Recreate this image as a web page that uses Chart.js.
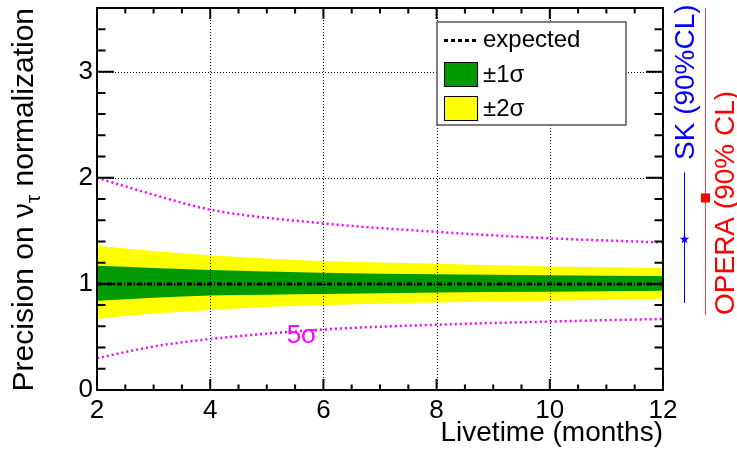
<!DOCTYPE html>
<html>
<head>
<meta charset="utf-8">
<script src="https://cdn.jsdelivr.net/npm/chart.js@4.4.0/dist/chart.umd.min.js"></script>
<style>
  html, body { margin: 0; padding: 0; background: #fff; }
</style>
</head>
<body>
<canvas id="chart" width="737" height="451"></canvas>
<script>
const months = [2, 3, 4, 6, 8, 10, 12];

const expected    = [1, 1, 1, 1, 1, 1, 1];
const oneSigmaHi  = [1.17, 1.15, 1.13, 1.105, 1.09, 1.082, 1.075];
const oneSigmaLo  = [0.84, 0.87, 0.89, 0.905, 0.92, 0.925, 0.935];
const twoSigmaHi  = [1.36, 1.31, 1.27, 1.215, 1.19, 1.163, 1.15];
const twoSigmaLo  = [0.67, 0.72, 0.755, 0.80, 0.825, 0.84, 0.86];
const fiveSigmaHi = [2.0, 1.84, 1.70, 1.57, 1.49, 1.43, 1.39];
const fiveSigmaLo = [0.30, 0.41, 0.48, 0.57, 0.615, 0.645, 0.67];

const xTicks = [2, 4, 6, 8, 10, 12];
const yTicks = [0, 1, 2, 3];

// external measurements shown right of the frame (value + 90% CL range)
const skCentral = 1.42, skRange = [0.82, 2.05];
const operaCentral = 1.81, operaRange = [0.71, 3.6];

const fiveSigmaLabelAt = { x: 5.62, y: 0.51 };

const FONT = '"Liberation Sans", Arial, Helvetica, sans-serif';

function series(vals, extra) {
    return Object.assign({
        data: months.map((m, i) => ({ x: m, y: vals[i] })),
        pointRadius: 0,
        borderWidth: 0,
        borderColor: 'transparent',
        cubicInterpolationMode: 'monotone',
        fill: false
    }, extra);
}

// ROOT-like frame: dotted grid, inward ticks on all sides, labels, legend, side markers
const rootFrame = {
    id: 'rootFrame',
    afterDatasetsDraw(chart) {
        const { ctx, chartArea: a, scales: { x, y } } = chart;
        ctx.save();

        // dotted grid at the major ticks
        ctx.strokeStyle = '#000';
        ctx.lineWidth = 1;
        ctx.setLineDash([1, 2]);
        ctx.beginPath();
        xTicks.slice(1, -1).forEach(v => {
            const px = Math.round(x.getPixelForValue(v)) + 0.5;
            ctx.moveTo(px, a.top); ctx.lineTo(px, a.bottom);
        });
        yTicks.slice(1).forEach(v => {
            const py = Math.round(y.getPixelForValue(v)) + 0.5;
            ctx.moveTo(a.left, py); ctx.lineTo(a.right, py);
        });
        ctx.stroke();
        ctx.setLineDash([]);

        // ticks
        ctx.lineWidth = 2;
        ctx.beginPath();
        for (let v = 0; v <= 3.6001; v += 0.2) {
            const major = Math.abs(v - Math.round(v)) < 1e-6;
            const len = major ? 17 : 8.5;
            const py = y.getPixelForValue(v);
            ctx.moveTo(a.left, py); ctx.lineTo(a.left + len, py);
            ctx.moveTo(a.right, py); ctx.lineTo(a.right - len, py);
        }
        for (let v = 2; v <= 12.0001; v += 0.5) {
            const major = Math.abs(v / 2 - Math.round(v / 2)) < 1e-6;
            const len = major ? 11 : 5.5;
            const px = x.getPixelForValue(v);
            ctx.moveTo(px, a.bottom); ctx.lineTo(px, a.bottom - len);
            ctx.moveTo(px, a.top); ctx.lineTo(px, a.top + len);
        }
        ctx.stroke();

        // frame
        ctx.strokeRect(a.left, a.top, a.right - a.left, a.bottom - a.top);

        // tick labels
        ctx.fillStyle = '#000';
        ctx.font = '26px ' + FONT;
        ctx.textAlign = 'center';
        ctx.textBaseline = 'alphabetic';
        xTicks.forEach(v => ctx.fillText(String(v), x.getPixelForValue(v), a.bottom + 28));
        ctx.textAlign = 'right';
        ctx.textBaseline = 'middle';
        yTicks.forEach(v => ctx.fillText(String(v), a.left - 4, y.getPixelForValue(v)));

        // axis titles
        ctx.font = '28px ' + FONT;
        ctx.textAlign = 'right';
        ctx.textBaseline = 'alphabetic';
        ctx.fillText('Livetime (months)', a.right, 441);

        ctx.save();
        ctx.translate(33, a.top);
        ctx.rotate(-Math.PI / 2);
        const big = '30px ' + FONT, small = '21px ' + FONT;
        const parts = [['Precision on \u03bd', big, 0], ['\u03c4', small, 7], [' normalization', big, 0]];
        let total = 0;
        parts.forEach(p => { ctx.font = p[1]; total += ctx.measureText(p[0]).width; });
        let cx = -total;
        ctx.textAlign = 'left';
        parts.forEach(p => {
            ctx.font = p[1];
            ctx.fillText(p[0], cx, p[2]);
            cx += ctx.measureText(p[0]).width;
        });
        ctx.restore();

        // 5 sigma label
        ctx.fillStyle = '#ff00ff';
        ctx.font = '26px ' + FONT;
        ctx.textAlign = 'center';
        ctx.textBaseline = 'middle';
        ctx.fillText('5\u03c3', x.getPixelForValue(fiveSigmaLabelAt.x), y.getPixelForValue(fiveSigmaLabelAt.y));

        // legend
        const lx = 437, ly = 22, lw = 189, lh = 103;
        ctx.fillStyle = '#fff';
        ctx.fillRect(lx, ly, lw, lh);
        ctx.strokeStyle = '#555';
        ctx.lineWidth = 1.5;
        ctx.strokeRect(lx, ly, lw, lh);
        ctx.strokeStyle = '#000';
        ctx.lineWidth = 3;
        ctx.setLineDash([4, 3]);
        ctx.beginPath(); ctx.moveTo(444, 40.5); ctx.lineTo(478, 40.5); ctx.stroke();
        ctx.setLineDash([]);
        ctx.lineWidth = 1;
        ctx.fillStyle = '#009900';
        ctx.fillRect(444, 62, 33, 24);
        ctx.strokeRect(444.5, 62.5, 33, 24);
        ctx.fillStyle = '#ffff00';
        ctx.fillRect(444, 96, 33, 24);
        ctx.strokeRect(444.5, 96.5, 33, 24);
        ctx.fillStyle = '#000';
        ctx.font = '24px ' + FONT;
        ctx.textAlign = 'left';
        ctx.textBaseline = 'middle';
        ctx.fillText('expected', 483, 40);
        ctx.fillText('\u00b11\u03c3', 483, 75);
        ctx.fillText('\u00b12\u03c3', 483, 109);

        // SK
        const skX = a.right + 21.5;
        ctx.strokeStyle = '#0000ff';
        ctx.lineWidth = 1;
        ctx.beginPath();
        ctx.moveTo(skX, y.getPixelForValue(skRange[0]));
        ctx.lineTo(skX, y.getPixelForValue(skRange[1]));
        ctx.stroke();
        drawStar(ctx, skX, y.getPixelForValue(skCentral), 5, '#0000ff');
        ctx.save();
        ctx.translate(a.right + 31, 160);
        ctx.rotate(-Math.PI / 2);
        ctx.fillStyle = '#0000ff';
        ctx.font = '28px ' + FONT;
        ctx.textAlign = 'left';
        ctx.textBaseline = 'alphabetic';
        ctx.fillText('SK (90%CL)', 0, 0);
        ctx.restore();

        // OPERA
        const opX = a.right + 42.5;
        ctx.strokeStyle = '#ff4444';
        ctx.lineWidth = 1;
        ctx.beginPath();
        ctx.moveTo(opX, y.getPixelForValue(operaRange[0]));
        ctx.lineTo(opX, y.getPixelForValue(operaRange[1]));
        ctx.stroke();
        ctx.fillStyle = '#ff0000';
        ctx.fillRect(opX - 4.5, y.getPixelForValue(operaCentral) - 4.5, 9, 9);
        ctx.save();
        ctx.translate(a.right + 71, 315);
        ctx.rotate(-Math.PI / 2);
        ctx.font = '28px ' + FONT;
        ctx.textAlign = 'left';
        ctx.textBaseline = 'alphabetic';
        ctx.fillText('OPERA (90% CL)', 0, 0);
        ctx.restore();

        ctx.restore();
    }
};

function drawStar(ctx, cx, cy, r, color) {
    ctx.beginPath();
    for (let i = 0; i < 10; i++) {
        const rr = i % 2 ? r * 0.4 : r;
        const ang = -Math.PI / 2 + i * Math.PI / 5;
        const px = cx + rr * Math.cos(ang), py = cy + rr * Math.sin(ang);
        if (i === 0) ctx.moveTo(px, py); else ctx.lineTo(px, py);
    }
    ctx.closePath();
    ctx.fillStyle = color;
    ctx.fill();
}

new Chart(document.getElementById('chart'), {
    type: 'line',
    data: {
        datasets: [
            series(twoSigmaHi, { fill: '+1', backgroundColor: '#ffff00', order: 4 }),
            series(twoSigmaLo, { order: 4 }),
            series(oneSigmaHi, { fill: '+1', backgroundColor: '#009900', order: 3 }),
            series(oneSigmaLo, { order: 3 }),
            series(fiveSigmaHi, { borderColor: '#ff00ff', borderWidth: 2.5, borderDash: [2, 3], order: 2 }),
            series(fiveSigmaLo, { borderColor: '#ff00ff', borderWidth: 2.5, borderDash: [2, 3], order: 2 }),
            series(expected, { borderColor: '#000', borderWidth: 3, borderDash: [5, 2, 1, 2], order: 1 })
        ]
    },
    options: {
        responsive: false,
        animation: false,
        devicePixelRatio: 1,
        layout: { padding: { left: 97, right: 74, top: 8, bottom: 61 } },
        scales: {
            x: { type: 'linear', min: 2, max: 12, display: false },
            y: { min: 0, max: 3.6, display: false }
        },
        plugins: {
            legend: { display: false },
            tooltip: { enabled: false }
        }
    },
    plugins: [rootFrame]
});
</script>
</body>
</html>
